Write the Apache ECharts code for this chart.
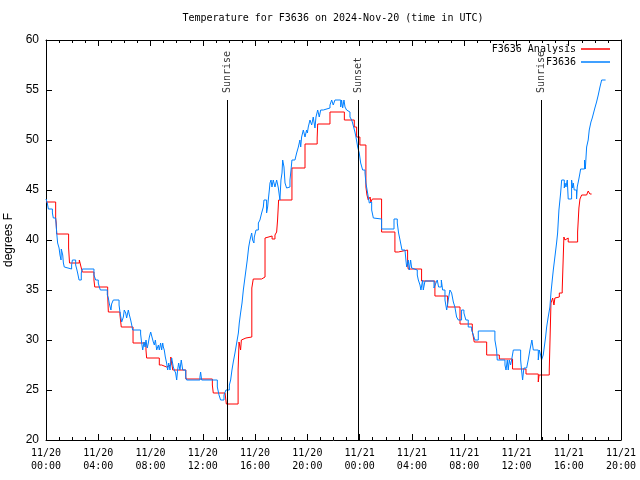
<!DOCTYPE html>
<html>
<head>
<meta charset="utf-8">
<script src="https://cdn.jsdelivr.net/npm/echarts@6/dist/echarts.min.js"></script>
<style>html,body{margin:0;padding:0;background:#fff}#c{width:640px;height:480px}</style>
</head>
<body>
<div id="c"></div>
<script>
// hours since 2024-11-20 00:00 UTC
var tickLabels = ['11/20\n00:00','11/20\n04:00','11/20\n08:00','11/20\n12:00','11/20\n16:00','11/20\n20:00',
                  '11/21\n00:00','11/21\n04:00','11/21\n08:00','11/21\n12:00','11/21\n16:00','11/21\n20:00'];
var eventHours = [13.85, 23.92, 37.9];
var eventNames = ['Sunrise', 'Sunset', 'Sunrise'];

var analysisPoints = [[0,43.8],[0.74,42.2],[0.78,41.7],[0.82,40.6],[1.73,39.2],[1.8,37.7],[2.55,38.0],[2.7,37.2],[2.78,36.8],
[3.67,36.0],[3.73,35.3],[4.72,34.5],[4.77,32.8],[5.66,32.5],[5.76,31.3],[6.66,29.7],[7.65,29.0],[7.7,28.2],[8.67,27.5],
[8.85,27.3],[9.23,27.5],[9.55,28.3],[9.7,27.0],[10.7,26.1],[12.73,25.5],[12.8,24.7],[13.7,24.9],[13.8,23.6],[14.7,27.0],
[14.77,29.8],[14.89,29.0],[14.95,30.0],[15.1,30.2],[15.3,30.3],[15.75,35.2],[15.86,36.1],[16.5,36.3],[16.76,40.2],[16.9,40.4],
[17.3,40.1],[17.52,40.5],[17.65,40.8],[17.72,42.0],[17.8,44.0],[18.82,47.2],[19.82,49.6],[20.75,50.2],[20.79,51.6],[21.73,52.8],
[22.83,52.0],[23.59,51.3],[23.77,50.3],[24.02,49.5],[24.48,45.3],[24.56,44.5],[24.66,44.0],[24.8,44.3],[24.86,43.8],[24.97,44.1],
[25.68,40.8],[26.7,38.8],[26.96,39.0],[27.67,37.5],[27.72,37.1],[28.74,35.9],[29.76,34.4],[30.73,33.3],[31.68,31.6],[32.62,30.9],
[32.77,29.8],[33.72,28.5],[34.69,28.1],[35.7,27.1],[36.73,26.6],[37.67,25.8],[37.73,26.5],[38.51,27.0],[38.64,33.7],[38.77,34.2],
[38.87,33.5],[38.94,34.2],[39.07,34.3],[39.28,34.7],[39.5,35.0],[39.63,40.3],[39.71,40.0],[39.84,40.2],[39.96,39.8],[40.68,40.8],
[40.78,43.2],[40.86,44.1],[40.99,44.5],[41.37,44.6],[41.49,44.9],[41.62,44.6],[41.75,44.6]];

var observedPoints = [[0,44.1],[0.1,43.7],[0.18,43.1],[0.49,42.7],[0.56,42.2],[0.74,42.1],[0.82,40.7],[0.89,39.7],[1.0,39.2],[1.07,38.5],
[1.15,38.0],[1.17,39.1],[1.28,38.5],[1.33,37.7],[1.4,37.3],[1.48,37.1],[1.96,37.5],[2.02,38.0],[2.27,37.5],[2.35,37.1],[2.42,36.7],
[2.53,36.0],[2.7,36.7],[2.78,37.1],[3.67,36.5],[3.8,36.0],[4.0,35.7],[4.08,35.3],[4.16,35.0],[4.69,34.5],[4.77,34.2],[4.85,33.6],
[4.97,33.0],[5.02,33.6],[5.15,34.0],[5.59,33.5],[5.66,32.8],[5.79,31.8],[5.92,32.3],[5.99,33.0],[6.1,32.7],[6.17,32.2],[6.3,33.0],
[6.38,32.5],[6.48,32.0],[6.56,31.5],[6.63,31.0],[7.24,30.6],[7.32,29.7],[7.4,29.0],[7.5,29.8],[7.58,29.3],[7.65,30.0],[7.75,29.2],
[7.83,29.7],[7.91,30.3],[8.01,30.8],[8.11,30.3],[8.21,29.8],[8.29,29.5],[8.37,30.0],[8.47,29.0],[8.6,29.5],[8.67,29.0],[8.77,29.7],
[8.85,29.0],[8.93,29.7],[8.98,29.3],[9.05,29.0],[9.13,28.3],[9.23,27.7],[9.31,27.0],[9.39,27.7],[9.49,27.0],[9.54,27.7],[9.62,28.2],
[9.74,27.3],[9.82,27.0],[9.92,26.7],[10.0,26.0],[10.07,27.0],[10.15,27.7],[10.25,27.0],[10.35,28.0],[10.46,27.0],[10.69,26.3],
[10.76,26.0],[11.78,26.3],[11.83,26.8],[11.91,26.0],[13.11,25.3],[13.24,24.5],[13.36,24.0],[13.62,24.5],[13.77,25.0],[14.03,25.5],
[14.13,26.0],[14.23,27.0],[14.33,27.8],[14.46,28.7],[14.59,29.7],[14.72,30.7],[14.79,31.7],[14.89,32.7],[15.0,33.7],[15.1,35.0],
[15.2,36.0],[15.3,37.0],[15.4,38.0],[15.51,39.3],[15.61,40.0],[15.74,40.7],[15.81,40.0],[15.91,39.7],[15.94,40.3],[16.07,41.0],
[16.25,41.7],[16.37,42.0],[16.5,42.7],[16.63,43.3],[16.68,44.0],[16.88,42.7],[16.96,43.3],[17.01,44.0],[17.09,45.0],[17.14,45.7],
[17.22,46.0],[17.29,45.3],[17.39,46.0],[17.52,45.3],[17.65,46.0],[17.78,45.2],[17.9,44.0],[17.98,46.0],[18.06,46.7],[18.11,48.0],
[18.21,47.3],[18.29,45.7],[18.41,45.2],[18.54,45.3],[18.67,46.0],[18.75,47.0],[18.82,48.0],[19.05,48.2],[19.18,48.7],[19.31,49.3],
[19.43,50.0],[19.49,49.3],[19.56,50.3],[19.69,51.0],[19.82,50.3],[19.94,51.0],[20.0,50.7],[20.07,51.3],[20.2,52.0],[20.33,51.5],
[20.45,52.3],[20.58,51.2],[20.66,52.3],[20.79,53.0],[20.91,52.3],[21.02,53.0],[21.22,53.2],[21.73,53.5],[21.86,54.0],[21.98,53.5],
[22.11,54.0],[22.55,53.3],[22.62,54.0],[22.7,53.2],[22.8,54.0],[22.88,53.3],[23.0,53.0],[23.13,52.8],[23.26,52.3],[23.39,52.0],
[23.46,51.7],[23.54,51.3],[23.64,50.8],[23.72,50.3],[23.85,49.3],[23.97,48.7],[24.08,47.7],[24.23,47.0],[24.41,46.7],[24.48,45.7],
[24.61,44.7],[24.74,43.7],[24.84,43.8],[24.92,43.0],[25.05,42.2],[25.17,42.1],[25.68,41.1],[26.63,42.1],[26.88,41.7],[26.98,40.7],
[27.09,40.0],[27.24,39.0],[27.47,38.8],[27.54,38.0],[27.6,37.3],[27.72,38.0],[27.8,37.0],[27.9,38.0],[27.98,37.2],[28.1,37.0],
[28.41,36.5],[28.49,36.0],[28.62,35.5],[28.69,35.0],[28.82,36.0],[28.87,35.0],[29.0,35.9],[29.69,35.2],[29.84,35.7],[29.94,36.0],
[30.04,35.3],[30.25,36.0],[30.35,35.0],[30.53,34.0],[30.66,33.0],[30.78,34.0],[30.91,35.0],[31.04,34.7],[31.17,33.8],[31.29,33.3],
[31.42,32.3],[31.55,32.0],[31.8,33.0],[31.98,32.7],[32.13,32.0],[32.31,31.3],[32.57,31.0],[32.7,30.5],[32.82,30.0],[33.08,30.9],
[34.35,30.0],[34.48,29.0],[34.53,28.0],[35.12,27.5],[35.2,27.0],[35.3,28.0],[35.37,27.0],[35.45,28.0],[35.55,27.5],[35.63,28.0],
[35.76,29.0],[36.32,28.0],[36.39,27.0],[36.47,26.0],[36.57,27.2],[36.78,27.0],[36.9,28.0],[37.03,29.0],[37.18,30.0],[37.29,29.0],
[37.67,28.0],[37.75,29.0],[37.85,28.5],[37.92,28.0],[38.05,28.5],[38.13,29.3],[38.23,30.3],[38.31,31.3],[38.43,32.3],[38.56,33.3],
[38.64,34.7],[38.74,36.0],[38.82,37.0],[38.94,38.3],[39.07,39.7],[39.15,40.7],[39.25,43.0],[39.38,44.7],[39.46,46.0],[39.66,45.2],
[39.71,45.7],[39.79,45.3],[39.89,46.0],[39.96,44.1],[40.22,46.0],[40.3,45.2],[40.35,45.7],[40.42,45.0],[40.6,44.1],[40.65,45.3],
[40.76,46.0],[40.86,46.7],[40.91,47.1],[41.21,48.0],[41.27,47.1],[41.37,49.3],[41.49,50.0],[41.57,51.0],[41.7,51.8],[41.8,52.2],
[41.9,52.7],[42.0,53.2],[42.13,53.8],[42.26,54.5],[42.39,55.3],[42.52,56.0],[42.82,56.0]];

var eventTop = 54;
var yMin = 20, yMax = 60;

var mono = 'DejaVu Sans Mono';
var sans = 'Liberation Sans';
var chart = echarts.init(document.getElementById('c'), null, {renderer: 'canvas'});
var axisLineStyle = {color: '#000', width: 1};
var eventData = eventHours.map(function (h, i) { return [h, eventTop, eventNames[i]]; });
chart.setOption({
  animation: false,
  backgroundColor: '#fff',
  title: {
    text: 'Temperature for F3636 on 2024-Nov-20 (time in UTC)',
    left: 333, top: 13, textAlign: 'center', padding: 0,
    textStyle: {fontFamily: mono, fontSize: 10, fontWeight: 'normal', color: '#000'}
  },
  legend: {
    data: ['F3636 Analysis', 'F3636'],
    orient: 'vertical', right: 30, top: 43, align: 'right', padding: 0,
    icon: 'rect', itemWidth: 29, itemHeight: 1.5, itemGap: 1,
    textStyle: {fontFamily: mono, fontSize: 10, color: '#000', lineHeight: 12}
  },
  grid: {left: 46, right: 19, top: 40, bottom: 40, containLabel: false, outerBoundsMode: 'none'},
  xAxis: [{
    type: 'value', min: 0, max: 44, interval: 4, position: 'bottom',
    axisLine: {onZero: false, lineStyle: axisLineStyle},
    axisTick: {inside: true, length: 6, lineStyle: axisLineStyle},
    minorTick: {show: true, splitNumber: 4, length: 3, lineStyle: axisLineStyle},
    splitLine: {show: false},
    axisLabel: {
      formatter: function (v) { return tickLabels[Math.round(v / 4)]; },
      fontFamily: mono, fontSize: 10, color: '#000', margin: 7, lineHeight: 13
    }
  }, {
    type: 'value', min: 0, max: 44, interval: 4, position: 'top',
    axisLine: {onZero: false, lineStyle: axisLineStyle},
    axisTick: {inside: true, length: 6, lineStyle: axisLineStyle},
    minorTick: {show: true, splitNumber: 4, length: 3, lineStyle: axisLineStyle},
    splitLine: {show: false}, axisLabel: {show: false}
  }],
  yAxis: [{
    type: 'value', min: yMin, max: yMax, interval: 5, position: 'left',
    name: 'degrees F', nameLocation: 'middle', nameGap: 29, nameRotate: 90,
    nameTextStyle: {fontFamily: sans, fontSize: 12, color: '#000'},
    axisLine: {onZero: false, lineStyle: axisLineStyle},
    axisTick: {inside: true, length: 6, lineStyle: axisLineStyle},
    splitLine: {show: false},
    axisLabel: {fontFamily: sans, fontSize: 12, color: '#000', margin: 7}
  }, {
    type: 'value', min: yMin, max: yMax, interval: 5, position: 'right',
    axisLine: {onZero: false, lineStyle: axisLineStyle},
    axisTick: {inside: true, length: 6, lineStyle: axisLineStyle},
    splitLine: {show: false}, axisLabel: {show: false}
  }],
  series: [{
    name: 'events', type: 'scatter', symbolSize: 0, data: eventData, silent: true,
    label: {
      show: true, position: 'top', distance: 7, rotate: 90, align: 'left', verticalAlign: 'middle',
      formatter: function (p) { return p.data[2]; },
      fontFamily: mono, fontSize: 10, color: '#000'
    },
    markLine: {
      silent: true, symbol: 'none', label: {show: false},
      lineStyle: {color: '#000', width: 1, type: 'solid'},
      data: eventHours.map(function (h) { return [{coord: [h, yMin]}, {coord: [h, eventTop]}]; })
    }
  }, {
    name: 'F3636 Analysis', type: 'line', step: 'end', showSymbol: false, symbol: 'none',
    data: analysisPoints, lineStyle: {color: '#ff0000', width: 1}, itemStyle: {color: '#ff0000'}
  }, {
    name: 'F3636', type: 'line', step: 'end', showSymbol: false, symbol: 'none',
    data: observedPoints, lineStyle: {color: '#0080ff', width: 1}, itemStyle: {color: '#0080ff'}
  }]
});
</script>
</body>
</html>
